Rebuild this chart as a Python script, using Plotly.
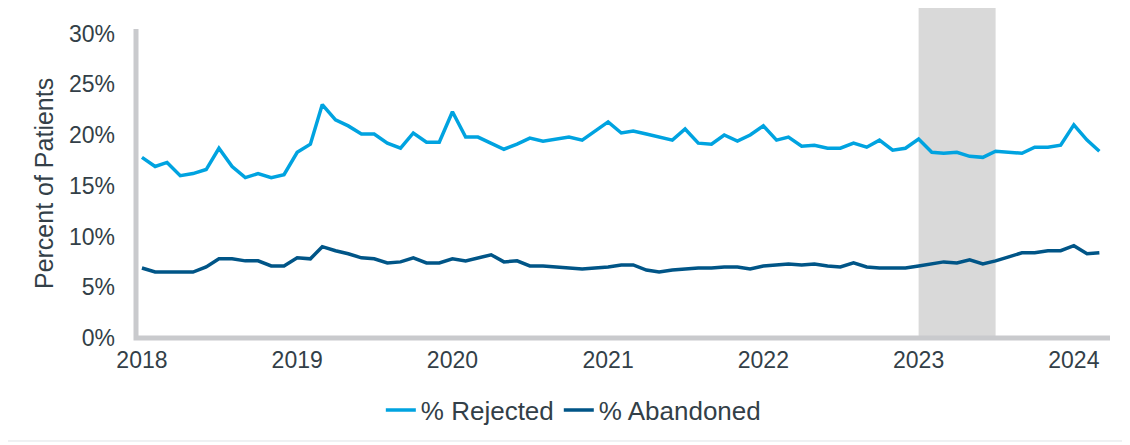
import plotly.graph_objects as go
import pandas as pd

months = pd.date_range("2018-01-01", periods=75, freq="MS")

rejected = [17.8, 16.9, 17.3, 16.0, 16.2, 16.6, 18.7, 16.9, 15.8, 16.2, 15.8, 16.1,
            18.3, 19.1, 23.0, 21.5, 20.9, 20.1, 20.1, 19.2, 18.7, 20.2, 19.3, 19.3,
            22.3, 19.8, 19.8, 19.2, 18.6, 19.1, 19.7, 19.4, 19.6, 19.8, 19.5, 20.4,
            21.3, 20.2, 20.4, 20.1, 19.8, 19.5, 20.6, 19.2, 19.1, 20.0, 19.4, 20.0,
            20.9, 19.5, 19.8, 18.9, 19.0, 18.7, 18.7, 19.2, 18.8, 19.5, 18.5, 18.7,
            19.6, 18.3, 18.2, 18.3, 17.9, 17.8, 18.4, 18.3, 18.2, 18.8, 18.8, 19.0,
            21.0, 19.5, 18.4]

abandoned = [6.9, 6.5, 6.5, 6.5, 6.5, 7.0, 7.8, 7.8, 7.6, 7.6, 7.1, 7.1,
             7.9, 7.8, 9.0, 8.6, 8.3, 7.9, 7.8, 7.4, 7.5, 7.9, 7.4, 7.4,
             7.8, 7.6, 7.9, 8.2, 7.5, 7.6, 7.1, 7.1, 7.0, 6.9, 6.8, 6.9,
             7.0, 7.2, 7.2, 6.7, 6.5, 6.7, 6.8, 6.9, 6.9, 7.0, 7.0, 6.8,
             7.1, 7.2, 7.3, 7.2, 7.3, 7.1, 7.0, 7.4, 7.0, 6.9, 6.9, 6.9,
             7.1, 7.3, 7.5, 7.4, 7.7, 7.3, 7.6, 8.0, 8.4, 8.4, 8.6, 8.6,
             9.1, 8.3, 8.4]

y_ticks = [0, 5, 10, 15, 20, 25, 30]
y_tick_labels = ["0%", "5%", "10%", "15%", "20%", "25%", "30%"]
x_ticks = ["2018-01-01", "2019-01-01", "2020-01-01", "2021-01-01",
           "2022-01-01", "2023-01-01", "2024-01-01"]
x_tick_labels = ["2018", "2019", "2020", "2021", "2022", "2023", "2024"]
shade_start, shade_end = "2023-01-01", "2023-07-01"

FONT = "Liberation Sans, Arial, sans-serif"
TEXT = "#333F48"

fig = go.Figure()
fig.add_trace(go.Scatter(x=months, y=rejected, mode="lines", name="% Rejected",
                         line=dict(color="#00A3E0", width=3.5)))
fig.add_trace(go.Scatter(x=months, y=abandoned, mode="lines", name="% Abandoned",
                         line=dict(color="#005587", width=3.5)))

# shaded period
fig.add_shape(type="rect", xref="x", yref="paper", x0=shade_start, x1=shade_end,
              y0=0, y1=1.085, fillcolor="#D9D9D9", line=dict(width=0), layer="below")
# L-shaped axis
fig.add_shape(type="path", xref="paper", yref="paper", path="M 0,1.003 L 0,0 L 1,0",
              line=dict(color="#C9CACD", width=5), layer="below")
# outer frame
fig.add_shape(type="rect", xref="paper", yref="paper", x0=-0.1366, x1=1.0175,
              y0=-0.3344, y1=1.0779, line=dict(color="#DFE2E6", width=1), layer="below")

fig.add_annotation(text="Percent of Patients", xref="paper", yref="paper",
                   x=-0.0945, y=0.503, xanchor="center", yanchor="middle",
                   textangle=-90, showarrow=False,
                   font=dict(size=25, color=TEXT, family=FONT))

fig.update_layout(
    width=1130, height=445,
    margin=dict(l=128, r=28, t=22, b=115, autoexpand=False),
    paper_bgcolor="white", plot_bgcolor="white",
    font=dict(family=FONT, color=TEXT, size=23),
    showlegend=True,
    legend=dict(orientation="h", x=0.449, xanchor="center", y=-0.234, yanchor="middle",
                font=dict(size=26, color=TEXT, family=FONT), itemwidth=30,
                bgcolor="rgba(0,0,0,0)"),
    xaxis=dict(type="date", range=["2017-12-18", "2024-03-26"], automargin=False,
               tickvals=x_ticks, ticktext=x_tick_labels, showgrid=False,
               showline=False, zeroline=False, ticks="", ticklabelstandoff=6,
               tickfont=dict(size=23, color=TEXT, family=FONT)),
    yaxis=dict(range=[0, 30.35], tickvals=y_ticks, ticktext=y_tick_labels, automargin=False,
               showgrid=False, showline=False, zeroline=False, ticks="",
               ticklabelstandoff=20, tickfont=dict(size=23, color=TEXT, family=FONT)),
)

fig.write_html("out.html")
